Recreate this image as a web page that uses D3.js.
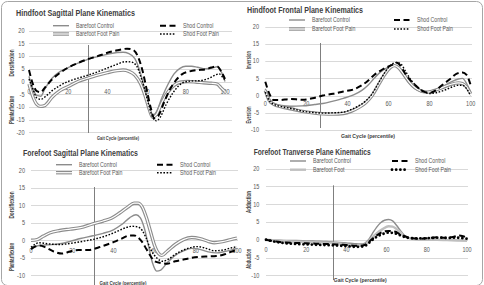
<!DOCTYPE html>
<html>
<head>
<meta charset="utf-8">
<script src="https://cdn.jsdelivr.net/npm/d3@7"></script>
<style>
body { margin: 0; background: #fff; }
svg { display: block; }
text { font-family: "Liberation Sans", Arial, sans-serif; }
</style>
</head>
<body>
<script>
// series names
var seriesNames = ["Barefoot Control", "Barefoot Foot Pain", "Shod Control", "Shod Foot Pain"]
var seriesNamesP4 = ["Barefoot Control", "Barefoot Foot", "Shod Control", "Shod Foot Pain"]

// y tick values
var yTicksA = [-20, -15, -10, -5, 0, 5, 10, 15, 20]
var yTicksB = [-10, -5, 0, 5, 10, 15, 20]
// x tick values (gait cycle, percentile)
var xTicks = [0, 20, 40, 60, 80, 100]

// hindfoot sagittal, [percentile, degrees]
var hsBareCtrl = [[0,2],[2,-3],[4,-5.5],[6,-5.8],[8,-3],[12,1.5],[16,4],[20,5.5],[25,7.2],[30,8.7],[35,9.8],[40,10.7],[45,11.4],[48,11.5],[51,11],[54,9],[57,3],[59,-3],[61,-9],[63,-13.5],[65,-12],[68,-6],[71,-1],[74,3],[77,5.2],[80,6],[83,6],[86,5.6],[90,5],[93,5.2],[96,5.8],[98,4],[100,0]]
var hsBarePain = [[0,-1],[2,-6],[4,-9],[6,-9.8],[8,-9.5],[12,-6],[16,-3.5],[20,-2],[25,0],[30,1.3],[35,2.5],[40,3.5],[45,4.3],[48,4.5],[51,4],[54,2.5],[57,-1],[59,-5],[61,-10],[63,-14],[65,-13],[68,-8],[71,-4],[74,-1.5],[77,-0.3],[81,0],[85,-0.2],[89,-0.5],[93,-0.7],[96,-1],[98,-2.5],[100,-4]]
var hsShodCtrl = [[0,4.5],[2,-1],[4,-3.8],[6,-4.2],[8,-2.5],[12,1],[16,3.5],[20,5.5],[25,7.3],[30,8.8],[35,10],[40,11.3],[45,12.3],[50,12.9],[53,12.5],[56,9],[58,4],[60,-3],[62,-10],[64,-14.5],[66,-13.5],[69,-8],[72,-3],[75,0.5],[78,2.8],[82,4],[86,4.5],[90,4.8],[93,5.5],[96,6],[98,4],[100,1]]
var hsShodPain = [[0,1],[2,-3],[4,-6.5],[6,-7],[9,-5.5],[12,-3.5],[16,-1.5],[20,0],[25,1.3],[30,2.5],[35,3.8],[40,5.3],[45,6.8],[49,7.8],[52,7.7],[55,6],[57,2],[59,-3],[61,-9],[63,-14],[65,-15.5],[67,-14],[70,-9],[73,-5],[76,-2],[79,-0.3],[83,0.2],[87,0.3],[91,1],[95,2.5],[97,3],[99,1.5],[100,0.5]]

// hindfoot frontal
var hfBareCtrl = [[0,2],[2,-1],[4,-2.2],[8,-2.9],[12,-3.1],[18,-3],[24,-2.6],[28,-2.3],[33,-1.6],[38,-0.8],[43,0.2],[47,1.5],[50,3],[53,5],[56,6.8],[59,8],[62,8.6],[64,8.5],[66,7.2],[68,5.2],[71,3],[74,1.6],[77,1],[80,1.3],[83,1.8],[86,2.5],[90,3.8],[94,4.8],[96,5],[98,3.5],[100,1]]
var hfBarePain = [[0,1.5],[2,-1.5],[4,-2.5],[8,-3.3],[13,-3.9],[18,-4.6],[23,-5],[28,-5.3],[33,-5.4],[38,-5.2],[42,-4.5],[46,-3.3],[49,-2],[52,0],[55,3],[58,6],[61,8.2],[63,8.7],[65,8],[67,6.5],[70,4],[73,2.2],[76,1.3],[79,1],[82,1.4],[86,2.3],[90,3.2],[94,3.7],[96,3.5],[98,2.5],[100,0.5]]
var hfShodCtrl = [[0,4],[2,0.5],[4,-1.3],[7,-1.3],[12,-1],[18,-1.2],[23,-0.8],[28,0],[33,0.5],[38,1.2],[43,1.8],[47,3],[50,4.3],[53,6],[56,7.2],[59,8.2],[62,9],[64,9.5],[66,8.5],[68,6.5],[71,4.2],[74,2.5],[77,1.2],[80,0.8],[83,1.5],[86,3],[90,4.8],[93,6.3],[96,6.7],[98,6],[100,3]]
var hfShodPain = [[0,1],[2,-1.5],[4,-2.5],[8,-3.2],[13,-3.8],[18,-4.5],[23,-4.9],[28,-5.1],[33,-5],[38,-4.8],[42,-4],[46,-2.8],[49,-1.5],[52,0.5],[55,3.5],[58,6.5],[61,8.8],[64,9.6],[66,9.2],[68,7.3],[71,4.5],[74,2.5],[77,1.2],[80,0.6],[83,0.8],[87,1.5],[91,2.5],[94,3],[96,3],[98,2],[100,0]]

// forefoot sagittal
var fsBareCtrl = [[0,-2],[4,-1.5],[8,-1.3],[14,-1],[19,-0.3],[24,0.5],[30,1.3],[35,2],[40,3],[44,4.5],[48,6.5],[51,7.3],[53,6.5],[55,3.5],[57,-1.5],[59,-6.5],[61,-8.8],[63,-8.5],[66,-6.5],[70,-4.3],[74,-3],[78,-2.3],[82,-2.6],[86,-3.3],[90,-3.6],[94,-3.2],[97,-2.8],[100,-2.3]]
var fsBarePain = [[0,0],[3,0.2],[6,1.2],[9,2.1],[14,2.8],[19,3.2],[24,3.6],[30,4.7],[35,5.5],[39,6.3],[43,7.8],[47,9.5],[50,10.6],[52,10.6],[54,9.5],[56,6.5],[58,2.5],[60,-1.5],[62,-3.8],[63.5,-4.3],[66,-3.2],[70,-1.2],[74,0.2],[78,0.8],[82,0.5],[86,-0.3],[89,-0.7],[93,-0.4],[97,0.2],[100,0.6]]
var fsShodCtrl = [[0,-2.5],[4,-1.5],[7,-2],[11,-3.2],[15,-3.8],[19,-3.2],[23,-2.8],[28,-2.8],[33,-2],[37,-1.2],[41,-0.3],[44,0.5],[48,1.4],[50,1.4],[52,0.8],[54,-0.5],[56,-2.5],[58,-4.5],[60,-6],[63,-6.5],[66,-6.7],[70,-6],[74,-5.5],[78,-5],[82,-4.7],[86,-4.6],[90,-4.5],[94,-4],[97,-3.3],[100,-2.7]]
var fsShodPain = [[0,-2],[4,-0.7],[8,-1],[14,-1.2],[20,-0.8],[27,-0.1],[32,0.5],[37,1.4],[42,2.6],[46,3.6],[49,4],[52,3.8],[54,2.8],[56,0.5],[58,-2.5],[61,-5],[64,-6],[67,-5.3],[70,-4],[74,-2.8],[78,-2],[81,-1.8],[85,-2.3],[89,-3],[93,-2.8],[97,-2.2],[100,-1.8]]

// forefoot transverse
var ftBareCtrl = [[0,0],[5,-0.1],[10,-0.2],[15,-0.2],[20,-0.3],[25,-0.4],[30,-0.5],[35,-0.7],[40,-0.9],[44,-1.1],[47,-1.2],[49,-1],[51,0],[53,1.8],[55,3.5],[57,4.8],[59,5.5],[61,5.7],[63,5.3],[65,4],[67,2.5],[69,1.2],[71,0.5],[75,0.2],[80,0.1],[85,0],[90,0],[95,-0.1],[100,-0.2]]
var ftBarePain = [[0,0],[5,-0.2],[10,-0.4],[20,-0.6],[30,-0.8],[35,-1],[40,-1.3],[45,-1.6],[48,-1.6],[50,-1],[52,0.2],[55,1.8],[58,3],[61,3.8],[63,3.7],[65,3],[67,2],[69,1],[72,0.3],[76,0],[80,0],[85,0],[90,-0.1],[95,-0.2],[100,-0.3]]
var ftShodCtrl = [[0,0],[5,-0.5],[10,-0.8],[15,-0.9],[20,-1],[25,-1.1],[30,-1.2],[35,-1.3],[40,-1.5],[45,-1.7],[48,-1.6],[50,-1.2],[52,-0.2],[55,1.2],[58,2.2],[61,2.5],[64,2.3],[67,1.5],[70,0.8],[73,0.4],[77,0.3],[81,0.5],[85,0.7],[89,0.6],[93,0.8],[96,1.2],[98,1],[100,0.5]]
var ftShodPain = [[0,0],[5,-0.6],[10,-1],[15,-1.2],[20,-1.3],[25,-1.4],[30,-1.5],[35,-1.6],[40,-1.8],[45,-2],[48,-1.9],[50,-1.5],[52,-0.5],[55,0.8],[58,1.6],[61,2],[64,1.8],[67,1.2],[70,0.6],[74,0.4],[78,0.4],[82,0.5],[86,0.6],[90,0.5],[94,0.6],[97,0.5],[100,0.3]]

// marker line (percentile) per panel
var markerPct = [30, 26.6, 30.7, 33.2]

// image size
var w = 484
var h = 285

var svg = d3.select("body").append("svg")
    .attr("width", w)
    .attr("height", h)

// outer frame
svg.append("rect")
    .attr("x", 1.5).attr("y", 1.5)
    .attr("width", w - 3).attr("height", h - 1)
    .attr("rx", 6)
    .attr("fill", "none")
    .attr("stroke", "#a6a6a6")

// squeeze text horizontally to mimic a narrow font
function condense(t, factor) {
    var len = t.node().getComputedTextLength()
    t.attr("textLength", len * factor).attr("lengthAdjust", "spacingAndGlyphs")
    return t
}

// line styles
var styles = {
    bareCtrl: { color: "#8c8c8c", width: 1.4 },
    shodCtrl: { color: "#000", width: 2, dash: "6,3.5" },
    shodPain: { color: "#000", width: 1.4, dash: "1.6,1.6" }
}

// panel layouts
var panels = [
    { title: "Hindfoot Sagittal Plane Kinematics", tx: 16, ty: 15.5, tw: 119,
      x0: 29, x1: 225, gx1: 232, yTop: 30.7, yBot: 132.3, dom: [-20, 20], ticks: yTicksA,
      tickR: 24.5, xLabY: 94,
      legL: 53, legR: 160, legY: [25.7, 34], names: seriesNames,
      yLab: ["Dorsiflexion", "Plantarflexion"], yLabW: [27, 28], yLabX: 12, yLabY: [63, 110],
      gx: 118, gy: 139.5, gw: 42, vTop: 45, vBot: 133,
      series: [hsBareCtrl, hsBarePain, hsShodCtrl, hsShodPain], p4: false },
    { title: "Hindfoot Frontal Plane Kinematics", tx: 247, ty: 13, tw: 116,
      x0: 265.3, x1: 470.7, gx1: 472, yTop: 26.7, yBot: 130, dom: [-10, 20], ticks: yTicksB,
      tickR: 259, xLabY: 105.8,
      legL: 289, legR: 394, legY: [20, 29], names: seriesNames,
      yLab: ["Inversion", "Eversion"], yLabW: [18, 17], yLabX: 248.7, yLabY: [60, 115],
      gx: 368, gy: 137.5, gw: 54, vTop: 43, vBot: 128,
      series: [hfBareCtrl, hfBarePain, hfShodCtrl, hfShodPain], p4: false },
    { title: "Forefoot Sagittal Plane Kinematics", tx: 23, ty: 155.5, tw: 115,
      x0: 31, x1: 237, gx1: 238, yTop: 170.3, yBot: 275.3, dom: [-10, 20], ticks: yTicksB,
      tickR: 25, xLabY: 252.5,
      legL: 56, legR: 157, legY: [164.7, 172.7], names: seriesNames,
      yLab: ["Dorsiflexion", "Plantarflexion"], yLabW: [27, 28], yLabX: 12, yLabY: [205, 257],
      gx: 123, gy: 285, gw: 47, vTop: 187, vBot: 285,
      series: [fsBareCtrl, fsBarePain, fsShodCtrl, fsShodPain], p4: false },
    { title: "Forefoot Tranverse Plane Kinematics", tx: 253.7, ty: 155, tw: 117,
      x0: 266, x1: 467, gx1: 468, yTop: 168.7, yBot: 275.3, dom: [-10, 20], ticks: yTicksB,
      tickR: 259.3, xLabY: 251.8,
      legL: 290, legR: 392, legY: [161, 169.7], names: seriesNamesP4,
      yLab: ["Adduction", "Abduction"], yLabW: [22, 20], yLabX: 248.7, yLabY: [202, 258.7],
      gx: 360.3, gy: 282, gw: 53, vTop: 185.3, vBot: 280,
      series: [ftBareCtrl, ftBarePain, ftShodCtrl, ftShodPain], p4: true }
]

// draw one series with its style
function drawSeries(g, pts, idx, p4) {
    if (idx == 1 && !p4) {
        // double line
        g.append("path").attr("d", pts).attr("fill", "none")
            .attr("stroke", "#8c8c8c").attr("stroke-width", 3.4)
        g.append("path").attr("d", pts).attr("fill", "none")
            .attr("stroke", "#fff").attr("stroke-width", 1.2)
    } else if (idx == 1) {
        g.append("path").attr("d", pts).attr("fill", "none")
            .attr("stroke", "#bfbfbf").attr("stroke-width", 2.4)
    } else if (idx == 3 && p4) {
        g.append("path").attr("d", pts).attr("fill", "none")
            .attr("stroke", "#000").attr("stroke-width", 2.8)
            .attr("stroke-linecap", "round").attr("stroke-dasharray", "0,4.2")
    } else {
        var s = idx == 0 ? styles.bareCtrl : idx == 2 ? styles.shodCtrl : styles.shodPain
        g.append("path").attr("d", pts).attr("fill", "none")
            .attr("stroke", s.color).attr("stroke-width", s.width)
            .attr("stroke-dasharray", s.dash || null)
    }
}

panels.forEach(function(p, pi) {
    var g = svg.append("g")
    var xScale = d3.scaleLinear().domain([0, 100]).range([p.x0, p.x1])
    var yScale = d3.scaleLinear().domain(p.dom).range([p.yBot, p.yTop])

    // title
    g.append("text")
        .attr("x", p.tx).attr("y", p.ty)
        .attr("font-size", 9).attr("font-weight", "bold")
        .attr("fill", "#404040")
        .attr("textLength", p.tw).attr("lengthAdjust", "spacingAndGlyphs")
        .text(p.title)

    // gridlines + y tick labels
    p.ticks.forEach(function(t) {
        g.append("line")
            .attr("x1", p.x0).attr("x2", p.gx1)
            .attr("y1", Math.round(yScale(t)) + 0.5).attr("y2", Math.round(yScale(t)) + 0.5)
            .attr("stroke", "#d9d9d9").attr("stroke-width", 1)
        condense(g.append("text")
            .attr("x", p.tickR).attr("y", yScale(t) + 2.3)
            .attr("text-anchor", "end").attr("font-size", 6.5)
            .attr("fill", "#595959")
            .text(t), 0.85)
    })

    // x tick labels
    xTicks.forEach(function(t) {
        condense(g.append("text")
            .attr("x", xScale(t)).attr("y", p.xLabY)
            .attr("text-anchor", "middle").attr("font-size", 6.5)
            .attr("fill", "#595959")
            .text(t), 0.85)
    })

    // marker line
    g.append("line")
        .attr("x1", Math.round(xScale(markerPct[pi])) + 0.5).attr("x2", Math.round(xScale(markerPct[pi])) + 0.5)
        .attr("y1", p.vTop).attr("y2", p.vBot)
        .attr("stroke", "#7f7f7f").attr("stroke-width", 1)

    // axis titles
    g.append("text")
        .attr("x", p.gx).attr("y", p.gy)
        .attr("text-anchor", "middle").attr("font-size", 6)
        .attr("font-weight", "bold").attr("fill", "#404040")
        .attr("textLength", p.gw).attr("lengthAdjust", "spacingAndGlyphs")
        .text("Gait Cycle (percentile)")
    p.yLab.forEach(function(lab, i) {
        g.append("text")
            .attr("text-anchor", "middle").attr("font-size", 6.5)
            .attr("font-weight", "bold").attr("fill", "#404040")
            .attr("textLength", p.yLabW[i]).attr("lengthAdjust", "spacingAndGlyphs")
            .attr("transform", "translate(" + (p.yLabX + 2.3) + "," + p.yLabY[i] + ") rotate(-90)")
            .text(lab)
    })

    // series
    var line = d3.line()
        .x(function(d) { return xScale(d[0]) })
        .y(function(d) { return yScale(d[1]) })
        .curve(d3.curveMonotoneX)
    p.series.forEach(function(s, i) {
        drawSeries(g, line(s), i, p.p4)
    })

    // legend
    var legPos = [[p.legL, p.legY[0]], [p.legL, p.legY[1]], [p.legR, p.legY[0]], [p.legR, p.legY[1]]]
    legPos.forEach(function(lp, i) {
        var sample = "M" + lp[0] + "," + lp[1] + "H" + (lp[0] + 16)
        drawSeries(g, sample, i, p.p4)
        condense(g.append("text")
            .attr("x", lp[0] + 23).attr("y", lp[1] + 2.3)
            .attr("font-size", 6.5).attr("fill", "#595959")
            .text(p.names[i]), 0.8)
    })
})
</script>
</body>
</html>
